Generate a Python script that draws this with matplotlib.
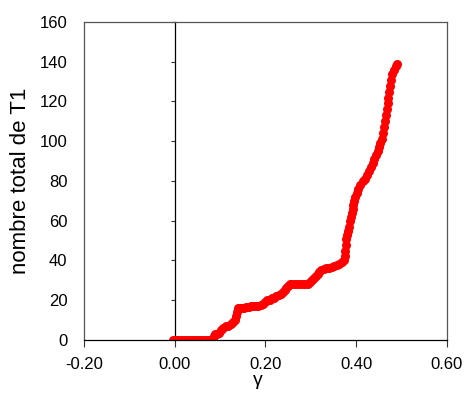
import matplotlib
matplotlib.use("Agg")
import matplotlib.pyplot as plt

gamma = [-0.004, 0.002, 0.008, 0.014, 0.020, 0.026, 0.032, 0.038, 0.044, 0.050,
         0.056, 0.062, 0.068, 0.074, 0.080, 0.084,
         0.087, 0.089, 0.093, 0.098, 0.103, 0.107, 0.112, 0.118, 0.124, 0.129,
         0.133, 0.136, 0.137, 0.139, 0.143, 0.148, 0.153, 0.158, 0.163, 0.168,
         0.173, 0.178, 0.184, 0.190, 0.195, 0.199, 0.204, 0.209, 0.214, 0.219,
         0.224, 0.229, 0.234, 0.239, 0.243, 0.246, 0.249, 0.253, 0.258, 0.264,
         0.270, 0.276, 0.282, 0.288, 0.294, 0.299, 0.303, 0.307, 0.311, 0.315,
         0.319, 0.323, 0.328, 0.334, 0.340, 0.346, 0.352, 0.358, 0.363, 0.368,
         0.372, 0.375, 0.376, 0.377, 0.378, 0.380, 0.382, 0.384, 0.386, 0.388,
         0.390, 0.392, 0.394, 0.396, 0.398, 0.401, 0.405, 0.409, 0.414, 0.419,
         0.424, 0.428, 0.432, 0.436, 0.440, 0.444, 0.447, 0.450, 0.453, 0.456,
         0.459, 0.461, 0.463, 0.465, 0.467, 0.469, 0.471, 0.473, 0.475, 0.477,
         0.479, 0.483, 0.487, 0.490]
count = [0, 0, 0, 0, 0, 0, 0, 0, 0, 0,
         0, 0, 0, 0, 0, 0,
         2, 3, 3, 3.5, 5, 6, 7, 7, 8, 9,
         10, 12, 14, 16, 16, 16, 16, 16.5, 16.5, 17,
         17, 17, 17, 17.5, 18, 19, 20, 20, 21, 21,
         22, 22.5, 23, 24, 25, 26, 27, 28, 28, 28,
         28, 28, 28, 28, 28, 29, 30, 31, 32, 33,
         34, 35, 35.5, 36, 36, 36.5, 37, 37.5, 38, 39,
         40, 42, 45, 48, 51, 53, 55, 57, 60, 62,
         64, 66, 68, 70, 72, 74, 76, 78, 80, 81,
         83, 85, 87, 89, 91, 93, 95, 97, 99, 101,
         104, 107, 110, 113, 116, 119, 122, 125, 128, 131,
         134, 136, 138, 139]

xticks = [-0.2, 0.0, 0.2, 0.4, 0.6]
xticklabels = ["-0.20", "0.00", "0.20", "0.40", "0.60"]
yticks = [0, 20, 40, 60, 80, 100, 120, 140, 160]

plt.rcParams['font.family'] = ['Liberation Sans', 'DejaVu Sans']

fig = plt.figure(figsize=(4.67, 3.93), dpi=100)
ax = fig.add_axes([0.180, 0.135, 0.777, 0.809])

ax.plot(gamma, count, linestyle='none', marker='o', markersize=6.5,
        color='#ff0000', markeredgewidth=0)

ax.set_xlim(-0.2, 0.6)
ax.set_ylim(0, 160)
ax.set_xticks(xticks)
ax.set_xticklabels(xticklabels)
ax.set_yticks(yticks)
ax.tick_params(axis='x', direction='out', length=5, width=0.8, pad=7,
               labelsize=12, color='#333333')
ax.tick_params(axis='y', length=0, pad=12, labelsize=12)

for s in ax.spines.values():
    s.set_color('#555555')
    s.set_linewidth(0.9)
ax.spines['bottom'].set_color('#000000')

sec = ax.secondary_yaxis(0.25)
sec.set_yticks(yticks)
sec.set_yticklabels([''] * len(yticks))
sec.tick_params(axis='y', direction='out', length=3, width=0.8, color='#333333')
sec.spines['left'].set_color('#000000')
sec.spines['left'].set_linewidth(0.9)

ax.set_ylabel('nombre total de T1', fontsize=16)
ax.yaxis.set_label_coords(-0.146, 0.5)
ax.set_xlabel('γ', fontsize=14)
ax.xaxis.set_label_coords(0.479, -0.102)

fig.savefig('out.png', dpi=100)
